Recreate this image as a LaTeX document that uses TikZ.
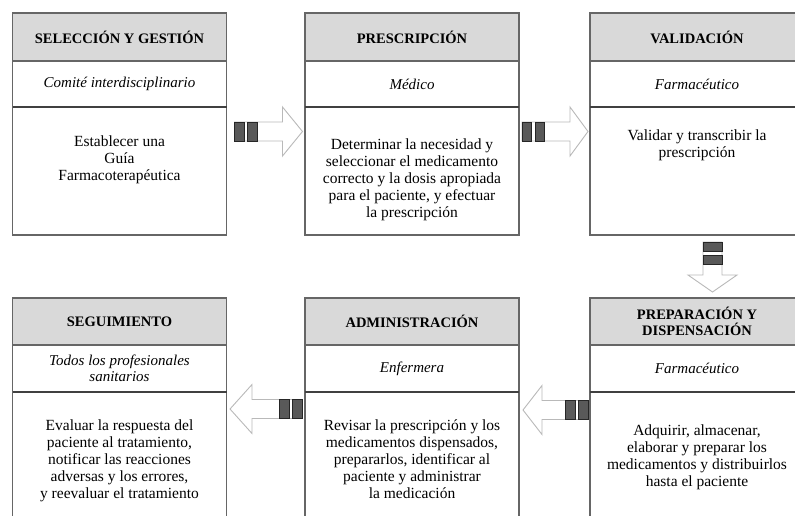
\documentclass[tikz,border=0pt]{standalone}
\usepackage{fontspec}
\setmainfont{Liberation Serif}
\usetikzlibrary{positioning,calc}

\tikzset{
  marco/.style={draw=black!60, line width=1.3pt, outer sep=0pt, inner sep=0pt, minimum width=214pt},
  cab/.style={marco, fill=gray!30, minimum height=48pt, align=center, font=\fontsize{14.5}{15.5}\selectfont\bfseries},
  rol/.style={marco, fill=white, minimum height=46pt, align=center, font=\fontsize{15}{15.5}\selectfont\itshape},
  cuerpo/.style={marco, fill=white},
  texto/.style={align=center, anchor=north, inner sep=0pt, font=\fontsize{15.5}{16.8}\selectfont},
  raya/.style={draw=black!75, line width=2.6pt},
  flecha/.style={draw=gray!55, fill=white, line width=0.9pt},
  barra/.style={draw=black!85, fill=black!65, line width=0.4pt},
  pics/bloque/.style 2 args={code={
    \draw[flecha] (0,-9.5) -- (#1-#2,-9.5) -- (#1-#2,-24.5) -- (#1,0) -- (#1-#2,24.5) -- (#1-#2,9.5) -- (0,9.5) -- cycle;
    \draw[barra] (0,-9.5) rectangle (9.5,9.5);
    \draw[barra] (13,-9.5) rectangle (22.5,9.5);
  }}
}

\begin{document}
\begin{tikzpicture}[x=1pt,y=-1pt]
\useasboundingbox (0,0) rectangle (795,515);
\clip (0,0) rectangle (795,515);

% fila de arriba
\node[cab] (h1) at (119.5,37) {SELECCIÓN Y GESTIÓN};
\node[rol, below=0pt of h1] (r1) {Comité interdisciplinario};
\node[cuerpo, minimum height=128pt, below=0pt of r1] (c1) {};
\draw[raya] (r1.south west) -- (r1.south east);
\node[texto, below=29pt of c1.north] (t1) {Establecer una\\Guía\\Farmacoterapéutica};

\node[cab] (h2) at (412,37) {PRESCRIPCIÓN};
\node[rol, below=0pt of h2] (r2) {Médico};
\node[cuerpo, minimum height=128pt, below=0pt of r2] (c2) {};
\draw[raya] (r2.south west) -- (r2.south east);
\node[texto, below=32pt of c2.north] (t2) {Determinar la necesidad y\\seleccionar el medicamento\\correcto y la dosis apropiada\\para el paciente, y efectuar\\la prescripción};

\node[cab] (h3) at (697,37) {VALIDACIÓN};
\node[rol, below=0pt of h3] (r3) {Farmacéutico};
\node[cuerpo, minimum height=128pt, below=0pt of r3] (c3) {};
\draw[raya] (r3.south west) -- (r3.south east);
\node[texto, below=23pt of c3.north] (t3) {Validar y transcribir la\\prescripción};

% fila de abajo
\node[cab, minimum height=47pt] (h4) at (119.5,321.5) {SEGUIMIENTO};
\node[rol, minimum height=47pt, below=0pt of h4] (r4) {Todos los profesionales\\sanitarios};
\node[cuerpo, minimum height=140pt, below=0pt of r4] (c4) {};
\draw[raya] (r4.south west) -- (r4.south east);
\node[texto, below=28pt of c4.north] (t4) {Evaluar la respuesta del\\paciente al tratamiento,\\notificar las reacciones\\adversas y los errores,\\y reevaluar el tratamiento};

\node[cab, minimum height=47pt] (h5) at (412,321.5) {ADMINISTRACIÓN};
\node[rol, minimum height=47pt, below=0pt of h5] (r5) {Enfermera};
\node[cuerpo, minimum height=140pt, below=0pt of r5] (c5) {};
\draw[raya] (r5.south west) -- (r5.south east);
\node[texto, below=28pt of c5.north] (t5) {Revisar la prescripción y los\\medicamentos dispensados,\\prepararlos, identificar al\\paciente y administrar\\la medicación};

\node[cab, minimum height=47pt] (h6) at (697,321.5) {PREPARACIÓN Y\\DISPENSACIÓN};
\node[rol, minimum height=47pt, below=0pt of h6] (r6) {Farmacéutico};
\node[cuerpo, minimum height=140pt, below=0pt of r6] (c6) {};
\draw[raya] (r6.south west) -- (r6.south east);
\node[texto, below=33pt of c6.north] (t6) {Adquirir, almacenar,\\elaborar y preparar los\\medicamentos y distribuirlos\\hasta el paciente};

% flechas
\coordinate (f1) at ($(c1.north east)+(8,24.5)$);
\coordinate (f2) at ($(c2.north east)+(3,24.5)$);
\coordinate (f3) at ($(c3.south)+(15.5,7)$);
\coordinate (f4) at ($(c5.north west)+(-3,17)$);
\coordinate (f5) at ($(c6.north west)+(-2,18)$);
\pic at (f1) {bloque={68}{20}};
\pic at (f2) {bloque={66}{18}};
\pic[rotate=-90] at (f3) {bloque={50}{17}};
\pic[rotate=180] at (f4) {bloque={72}{22}};
\pic[rotate=180] at (f5) {bloque={65}{19}};
\end{tikzpicture}
\end{document}
